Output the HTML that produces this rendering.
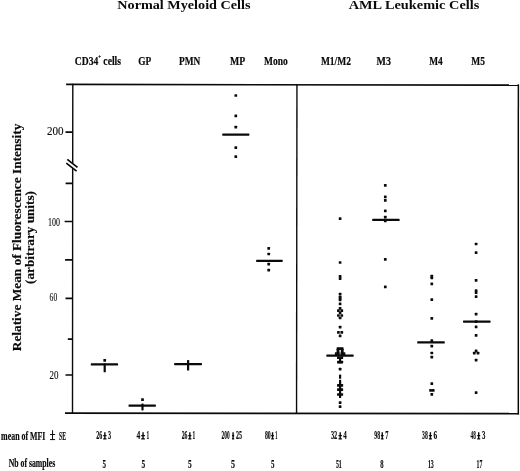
<!DOCTYPE html>
<html><head><meta charset="utf-8"><style>
html,body{margin:0;padding:0;background:#fff;width:520px;height:471px;overflow:hidden}
svg{display:block;will-change:transform}
</style></head><body>
<svg width="520" height="471" viewBox="0 0 520 471" font-family="Liberation Serif, serif">
<rect width="520" height="471" fill="#fff"/>

<g stroke="#0a0a0a" stroke-width="1.7" fill="none" stroke-linecap="butt">
<path d="M66.1 84.46 L518.9 85.1"/>
<path d="M65 413.1 L518.9 413.65"/>
<path d="M518.35 84.3 L518.3 414.4" stroke-width="1.5"/>
<path d="M296.95 84.0 L296.55 414.1" stroke-width="1.4"/>
<path d="M72.8 83.7 L72.7 163.6 M72.68 168.2 L72.5 413.9" stroke-width="1.4"/>
<path d="M65.5 132.1 H72.8 M65.6 183.4 H72.8 M64.6 221.5 H72.7 M65.1 259.8 H72.7 M65.5 298.3 H72.7 M67.8 339.2 H72.7 M65.5 375 H72.7"/>
<path d="M67.3 159.3 L77.5 167.4 M66.3 163.2 L76.6 171.2"/>
</g>

<g fill="#0a0a0a">
<rect x="103.35" y="359.05" width="2.7" height="2.7" rx="0.5"/>
<rect x="90.80" y="363.30" width="27.30" height="2.2" rx="0.6"/>
<rect x="103.60" y="363.30" width="2.2" height="9.00" rx="0.6"/>
<rect x="141.15" y="398.25" width="2.7" height="2.7" rx="0.5"/>
<rect x="128.50" y="404.50" width="27.40" height="2.2" rx="0.6"/>
<rect x="141.40" y="403.50" width="2.2" height="6.90" rx="0.6"/>
<rect x="174.10" y="363.00" width="27.90" height="2.2" rx="0.6"/>
<rect x="187.00" y="359.90" width="2.2" height="10.60" rx="0.6"/>
<rect x="234.45" y="94.15" width="2.7" height="2.7" rx="0.5"/>
<rect x="234.45" y="114.55" width="2.7" height="2.7" rx="0.5"/>
<rect x="234.45" y="125.75" width="2.7" height="2.7" rx="0.5"/>
<rect x="234.45" y="146.25" width="2.7" height="2.7" rx="0.5"/>
<rect x="234.45" y="155.35" width="2.7" height="2.7" rx="0.5"/>
<rect x="222.20" y="133.50" width="27.20" height="2.2" rx="0.6"/>
<rect x="267.35" y="246.95" width="2.7" height="2.7" rx="0.5"/>
<rect x="267.35" y="252.65" width="2.7" height="2.7" rx="0.5"/>
<rect x="267.35" y="262.85" width="2.7" height="2.7" rx="0.5"/>
<rect x="267.35" y="268.75" width="2.7" height="2.7" rx="0.5"/>
<rect x="256.10" y="259.70" width="26.60" height="2.2" rx="0.6"/>
<rect x="338.75" y="217.35" width="2.7" height="2.7" rx="0.5"/>
<rect x="338.75" y="261.15" width="2.7" height="2.7" rx="0.5"/>
<rect x="338.75" y="274.95" width="2.7" height="2.7" rx="0.5"/>
<rect x="338.75" y="277.35" width="2.7" height="2.7" rx="0.5"/>
<rect x="338.75" y="292.85" width="2.7" height="2.7" rx="0.5"/>
<rect x="338.75" y="295.85" width="2.7" height="2.7" rx="0.5"/>
<rect x="338.75" y="297.15" width="2.7" height="2.7" rx="0.5"/>
<rect x="338.75" y="298.45" width="2.7" height="2.7" rx="0.5"/>
<rect x="338.75" y="302.55" width="2.7" height="2.7" rx="0.5"/>
<rect x="338.75" y="306.95" width="2.7" height="2.7" rx="0.5"/>
<rect x="338.75" y="311.45" width="2.7" height="2.7" rx="0.5"/>
<rect x="338.75" y="316.65" width="2.7" height="2.7" rx="0.5"/>
<rect x="338.75" y="325.75" width="2.7" height="2.7" rx="0.5"/>
<rect x="338.75" y="334.45" width="2.7" height="2.7" rx="0.5"/>
<rect x="338.75" y="367.85" width="2.7" height="2.7" rx="0.5"/>
<rect x="338.75" y="401.35" width="2.7" height="2.7" rx="0.5"/>
<rect x="338.75" y="405.25" width="2.7" height="2.7" rx="0.5"/>
<rect x="337.05" y="309.25" width="2.7" height="2.7" rx="0.5"/>
<rect x="337.05" y="314.15" width="2.7" height="2.7" rx="0.5"/>
<rect x="337.05" y="331.05" width="2.7" height="2.7" rx="0.5"/>
<rect x="340.45" y="309.25" width="2.7" height="2.7" rx="0.5"/>
<rect x="340.45" y="314.15" width="2.7" height="2.7" rx="0.5"/>
<rect x="340.45" y="331.05" width="2.7" height="2.7" rx="0.5"/>
<rect x="336.65" y="347.25" width="2.7" height="2.7" rx="0.5"/>
<rect x="336.65" y="348.85" width="2.7" height="2.7" rx="0.5"/>
<rect x="336.65" y="350.45" width="2.7" height="2.7" rx="0.5"/>
<rect x="340.85" y="347.25" width="2.7" height="2.7" rx="0.5"/>
<rect x="340.85" y="348.85" width="2.7" height="2.7" rx="0.5"/>
<rect x="340.85" y="350.45" width="2.7" height="2.7" rx="0.5"/>
<rect x="338.75" y="347.25" width="2.7" height="2.7" rx="0.5"/>
<rect x="334.85" y="352.25" width="2.7" height="2.7" rx="0.5"/>
<rect x="337.05" y="352.25" width="2.7" height="2.7" rx="0.5"/>
<rect x="340.45" y="352.25" width="2.7" height="2.7" rx="0.5"/>
<rect x="342.65" y="352.25" width="2.7" height="2.7" rx="0.5"/>
<rect x="326.30" y="354.50" width="27.40" height="2.2" rx="0.6"/>
<rect x="337.05" y="356.25" width="2.7" height="2.7" rx="0.5"/>
<rect x="340.45" y="356.25" width="2.7" height="2.7" rx="0.5"/>
<rect x="339.00" y="357.00" width="2.2" height="4.50" rx="0.6"/>
<rect x="337.05" y="360.85" width="2.7" height="2.7" rx="0.5"/>
<rect x="340.45" y="360.85" width="2.7" height="2.7" rx="0.5"/>
<rect x="338.75" y="360.85" width="2.7" height="2.7" rx="0.5"/>
<rect x="339.00" y="374.60" width="2.2" height="4.20" rx="0.6"/>
<rect x="339.00" y="379.80" width="2.2" height="18.20" rx="0.6"/>
<rect x="337.05" y="383.95" width="2.7" height="2.7" rx="0.5"/>
<rect x="337.05" y="388.35" width="2.7" height="2.7" rx="0.5"/>
<rect x="337.05" y="393.15" width="2.7" height="2.7" rx="0.5"/>
<rect x="340.45" y="383.95" width="2.7" height="2.7" rx="0.5"/>
<rect x="340.45" y="388.35" width="2.7" height="2.7" rx="0.5"/>
<rect x="340.45" y="393.15" width="2.7" height="2.7" rx="0.5"/>
<rect x="383.95" y="184.05" width="2.7" height="2.7" rx="0.5"/>
<rect x="383.95" y="195.55" width="2.7" height="2.7" rx="0.5"/>
<rect x="383.95" y="198.95" width="2.7" height="2.7" rx="0.5"/>
<rect x="383.95" y="209.55" width="2.7" height="2.7" rx="0.5"/>
<rect x="383.95" y="215.75" width="2.7" height="2.7" rx="0.5"/>
<rect x="383.95" y="219.45" width="2.7" height="2.7" rx="0.5"/>
<rect x="383.95" y="258.05" width="2.7" height="2.7" rx="0.5"/>
<rect x="383.95" y="285.55" width="2.7" height="2.7" rx="0.5"/>
<rect x="372.20" y="218.80" width="27.40" height="2.2" rx="0.6"/>
<rect x="430.45" y="274.65" width="2.7" height="2.7" rx="0.5"/>
<rect x="430.45" y="276.65" width="2.7" height="2.7" rx="0.5"/>
<rect x="430.45" y="282.55" width="2.7" height="2.7" rx="0.5"/>
<rect x="430.45" y="298.35" width="2.7" height="2.7" rx="0.5"/>
<rect x="430.45" y="316.95" width="2.7" height="2.7" rx="0.5"/>
<rect x="430.45" y="339.25" width="2.7" height="2.7" rx="0.5"/>
<rect x="430.45" y="344.75" width="2.7" height="2.7" rx="0.5"/>
<rect x="430.45" y="351.65" width="2.7" height="2.7" rx="0.5"/>
<rect x="430.45" y="355.85" width="2.7" height="2.7" rx="0.5"/>
<rect x="430.45" y="382.35" width="2.7" height="2.7" rx="0.5"/>
<rect x="430.45" y="393.05" width="2.7" height="2.7" rx="0.5"/>
<rect x="429.25" y="388.95" width="2.7" height="2.7" rx="0.5"/>
<rect x="431.85" y="388.95" width="2.7" height="2.7" rx="0.5"/>
<rect x="417.20" y="341.30" width="27.60" height="2.2" rx="0.6"/>
<rect x="474.75" y="242.65" width="2.7" height="2.7" rx="0.5"/>
<rect x="474.75" y="251.35" width="2.7" height="2.7" rx="0.5"/>
<rect x="474.75" y="278.95" width="2.7" height="2.7" rx="0.5"/>
<rect x="474.75" y="289.25" width="2.7" height="2.7" rx="0.5"/>
<rect x="474.75" y="291.35" width="2.7" height="2.7" rx="0.5"/>
<rect x="474.75" y="295.35" width="2.7" height="2.7" rx="0.5"/>
<rect x="474.75" y="312.85" width="2.7" height="2.7" rx="0.5"/>
<rect x="474.75" y="320.25" width="2.7" height="2.7" rx="0.5"/>
<rect x="474.75" y="325.55" width="2.7" height="2.7" rx="0.5"/>
<rect x="474.75" y="333.95" width="2.7" height="2.7" rx="0.5"/>
<rect x="474.75" y="349.45" width="2.7" height="2.7" rx="0.5"/>
<rect x="474.75" y="358.85" width="2.7" height="2.7" rx="0.5"/>
<rect x="474.75" y="391.35" width="2.7" height="2.7" rx="0.5"/>
<rect x="472.95" y="351.85" width="2.7" height="2.7" rx="0.5"/>
<rect x="476.65" y="351.85" width="2.7" height="2.7" rx="0.5"/>
<rect x="463.00" y="320.50" width="27.60" height="2.2" rx="0.6"/>
</g>
<g fill="#0a0a0a">
<text x="117.3" y="9.2" font-size="13" font-weight="bold" textLength="133.20" lengthAdjust="spacingAndGlyphs" >Normal Myeloid Cells</text>
<text x="348.7" y="9.3" font-size="13" font-weight="bold" textLength="130.60" lengthAdjust="spacingAndGlyphs" >AML Leukemic Cells</text>
<text x="74.75" y="65" font-size="12" font-weight="bold" textLength="46.25" lengthAdjust="spacingAndGlyphs" stroke="#0a0a0a" stroke-width="0.2">CD34<tspan font-size="6" dy="-6.5">+</tspan><tspan dy="6.5"> cells</tspan></text>
<text x="138.2" y="65" font-size="12" font-weight="bold" textLength="13.00" lengthAdjust="spacingAndGlyphs" stroke="#0a0a0a" stroke-width="0.2">GP</text>
<text x="179" y="65" font-size="12" font-weight="bold" textLength="21.30" lengthAdjust="spacingAndGlyphs" stroke="#0a0a0a" stroke-width="0.2">PMN</text>
<text x="230" y="65" font-size="12" font-weight="bold" textLength="15.20" lengthAdjust="spacingAndGlyphs" stroke="#0a0a0a" stroke-width="0.2">MP</text>
<text x="264" y="65" font-size="12" font-weight="bold" textLength="23.70" lengthAdjust="spacingAndGlyphs" stroke="#0a0a0a" stroke-width="0.2">Mono</text>
<text x="320.9" y="65" font-size="12" font-weight="bold" textLength="30.10" lengthAdjust="spacingAndGlyphs" stroke="#0a0a0a" stroke-width="0.2">M1/M2</text>
<text x="376.5" y="65" font-size="12" font-weight="bold" textLength="14.40" lengthAdjust="spacingAndGlyphs" stroke="#0a0a0a" stroke-width="0.2">M3</text>
<text x="429.2" y="65" font-size="12" font-weight="bold" textLength="13.50" lengthAdjust="spacingAndGlyphs" stroke="#0a0a0a" stroke-width="0.2">M4</text>
<text x="471.3" y="65" font-size="12" font-weight="bold" textLength="13.60" lengthAdjust="spacingAndGlyphs" stroke="#0a0a0a" stroke-width="0.2">M5</text>
<text x="47" y="134.8" font-size="11.8"  textLength="16.60" lengthAdjust="spacingAndGlyphs" stroke="#0a0a0a" stroke-width="0.12">200</text>
<text x="48" y="225.8" font-size="11.8"  textLength="12.00" lengthAdjust="spacingAndGlyphs" stroke="#0a0a0a" stroke-width="0.12">100</text>
<text x="49.6" y="300.9" font-size="11.8"  textLength="7.60" lengthAdjust="spacingAndGlyphs" stroke="#0a0a0a" stroke-width="0.12">60</text>
<text x="49.5" y="378.8" font-size="11.8"  textLength="9.00" lengthAdjust="spacingAndGlyphs" stroke="#0a0a0a" stroke-width="0.12">20</text>
<text x="1.1" y="439.8" font-size="12.5" font-weight="bold" textLength="44.30" lengthAdjust="spacingAndGlyphs" stroke="#0a0a0a" stroke-width="0.2">mean of MFI</text>
<text x="59.0" y="439.9" font-size="12.5" font-weight="bold" textLength="7.00" lengthAdjust="spacingAndGlyphs" stroke="#0a0a0a" stroke-width="0.2">SE</text>
<text x="8.7" y="467.2" font-size="12.5" font-weight="bold" textLength="46.50" lengthAdjust="spacingAndGlyphs" stroke="#0a0a0a" stroke-width="0.2">Nb of samples</text>
<text x="96.2" y="439.0" font-size="12.5" font-weight="bold" textLength="6.00" lengthAdjust="spacingAndGlyphs" stroke="#0a0a0a" stroke-width="0.15">26</text>
<text x="108.10000000000001" y="439.0" font-size="12.5" font-weight="bold" textLength="3.10" lengthAdjust="spacingAndGlyphs" stroke="#0a0a0a" stroke-width="0.15">3</text>
<text x="136.6" y="439.0" font-size="12.5" font-weight="bold" textLength="3.80" lengthAdjust="spacingAndGlyphs" stroke="#0a0a0a" stroke-width="0.15">4</text>
<text x="146.39999999999998" y="439.0" font-size="12.5" font-weight="bold" textLength="2.70" lengthAdjust="spacingAndGlyphs" stroke="#0a0a0a" stroke-width="0.15">1</text>
<text x="181.7" y="439.0" font-size="12.5" font-weight="bold" textLength="5.80" lengthAdjust="spacingAndGlyphs" stroke="#0a0a0a" stroke-width="0.15">26</text>
<text x="192.6" y="439.0" font-size="12.5" font-weight="bold" textLength="2.70" lengthAdjust="spacingAndGlyphs" stroke="#0a0a0a" stroke-width="0.15">1</text>
<text x="221.6" y="439.0" font-size="12.5" font-weight="bold" textLength="8.00" lengthAdjust="spacingAndGlyphs" stroke="#0a0a0a" stroke-width="0.15">200</text>
<text x="236.0" y="439.0" font-size="12.5" font-weight="bold" textLength="6.00" lengthAdjust="spacingAndGlyphs" stroke="#0a0a0a" stroke-width="0.15">25</text>
<text x="264.9" y="439.0" font-size="12.5" font-weight="bold" textLength="5.80" lengthAdjust="spacingAndGlyphs" stroke="#0a0a0a" stroke-width="0.15">80</text>
<text x="275.3" y="439.0" font-size="12.5" font-weight="bold" textLength="2.20" lengthAdjust="spacingAndGlyphs" stroke="#0a0a0a" stroke-width="0.15">1</text>
<text x="330.9" y="439.0" font-size="12.5" font-weight="bold" textLength="6.30" lengthAdjust="spacingAndGlyphs" stroke="#0a0a0a" stroke-width="0.15">32</text>
<text x="343.3" y="439.0" font-size="12.5" font-weight="bold" textLength="3.50" lengthAdjust="spacingAndGlyphs" stroke="#0a0a0a" stroke-width="0.15">4</text>
<text x="374.3" y="439.0" font-size="12.5" font-weight="bold" textLength="5.80" lengthAdjust="spacingAndGlyphs" stroke="#0a0a0a" stroke-width="0.15">98</text>
<text x="385.3" y="439.0" font-size="12.5" font-weight="bold" textLength="3.20" lengthAdjust="spacingAndGlyphs" stroke="#0a0a0a" stroke-width="0.15">7</text>
<text x="422.0" y="439.0" font-size="12.5" font-weight="bold" textLength="5.80" lengthAdjust="spacingAndGlyphs" stroke="#0a0a0a" stroke-width="0.15">38</text>
<text x="433.59999999999997" y="439.0" font-size="12.5" font-weight="bold" textLength="3.70" lengthAdjust="spacingAndGlyphs" stroke="#0a0a0a" stroke-width="0.15">6</text>
<text x="470.59999999999997" y="439.0" font-size="12.5" font-weight="bold" textLength="5.20" lengthAdjust="spacingAndGlyphs" stroke="#0a0a0a" stroke-width="0.15">48</text>
<text x="481.9" y="439.0" font-size="12.5" font-weight="bold" textLength="3.40" lengthAdjust="spacingAndGlyphs" stroke="#0a0a0a" stroke-width="0.15">3</text>
<text x="102.4" y="468.4" font-size="12.6" font-weight="bold" textLength="3.50" lengthAdjust="spacingAndGlyphs" stroke="#0a0a0a" stroke-width="0.15">5</text>
<text x="141.5" y="468.4" font-size="12.6" font-weight="bold" textLength="3.70" lengthAdjust="spacingAndGlyphs" stroke="#0a0a0a" stroke-width="0.15">5</text>
<text x="187.89999999999998" y="468.4" font-size="12.6" font-weight="bold" textLength="3.70" lengthAdjust="spacingAndGlyphs" stroke="#0a0a0a" stroke-width="0.15">5</text>
<text x="230.89999999999998" y="468.4" font-size="12.6" font-weight="bold" textLength="4.00" lengthAdjust="spacingAndGlyphs" stroke="#0a0a0a" stroke-width="0.15">5</text>
<text x="270.9" y="468.4" font-size="12.6" font-weight="bold" textLength="3.50" lengthAdjust="spacingAndGlyphs" stroke="#0a0a0a" stroke-width="0.15">5</text>
<text x="335.9" y="468.4" font-size="12.6" font-weight="bold" textLength="5.90" lengthAdjust="spacingAndGlyphs" stroke="#0a0a0a" stroke-width="0.15">51</text>
<text x="380.3" y="468.4" font-size="12.6" font-weight="bold" textLength="3.30" lengthAdjust="spacingAndGlyphs" stroke="#0a0a0a" stroke-width="0.15">8</text>
<text x="427.9" y="468.4" font-size="12.6" font-weight="bold" textLength="5.90" lengthAdjust="spacingAndGlyphs" stroke="#0a0a0a" stroke-width="0.15">13</text>
<text x="476.59999999999997" y="468.4" font-size="12.6" font-weight="bold" textLength="5.80" lengthAdjust="spacingAndGlyphs" stroke="#0a0a0a" stroke-width="0.15">17</text>
<text transform="translate(20.8,351.2) rotate(-90)" font-size="11.6" font-weight="bold" stroke="#0a0a0a" stroke-width="0.15" textLength="227.5" lengthAdjust="spacingAndGlyphs">Relative Mean of Fluorescence Intensity</text>
<text transform="translate(33.5,283.9) rotate(-90)" font-size="12" font-weight="bold" stroke="#0a0a0a" stroke-width="0.15" textLength="92.9" lengthAdjust="spacingAndGlyphs">(arbitrary units)</text>
</g>
<g stroke="#0a0a0a" fill="none">
<path d="M52.55 430.2 V439.6 M50.0 434.5 H55.1 M50.0 439.6 H55.1" stroke-width="1.0"/>
<path d="M104.85 432.2 V438.9" stroke-width="1.4"/><path d="M103.2 435.6 H106.5 M103.2 438.9 H106.5" stroke-width="1.2"/>
<path d="M143.05 432.2 V438.9" stroke-width="1.4"/><path d="M141.2 435.6 H144.9 M141.2 438.9 H144.9" stroke-width="1.2"/>
<path d="M189.85 432.2 V438.9" stroke-width="1.4"/><path d="M188.29999999999998 435.6 H191.4 M188.29999999999998 438.9 H191.4" stroke-width="1.2"/>
<path d="M233.10 432.2 V438.9" stroke-width="1.4"/><path d="M232.0 435.6 H234.20000000000002 M232.0 438.9 H234.20000000000002" stroke-width="1.2"/>
<path d="M272.55 432.2 V438.9" stroke-width="1.4"/><path d="M271.2 435.6 H273.90000000000003 M271.2 438.9 H273.90000000000003" stroke-width="1.2"/>
<path d="M340.20 432.2 V438.9" stroke-width="1.4"/><path d="M338.5 435.6 H341.90000000000003 M338.5 438.9 H341.90000000000003" stroke-width="1.2"/>
<path d="M382.25 432.2 V438.9" stroke-width="1.4"/><path d="M380.9 435.6 H383.6 M380.9 438.9 H383.6" stroke-width="1.2"/>
<path d="M430.40 432.2 V438.9" stroke-width="1.4"/><path d="M428.9 435.6 H431.90000000000003 M428.9 438.9 H431.90000000000003" stroke-width="1.2"/>
<path d="M478.70 432.2 V438.9" stroke-width="1.4"/><path d="M477.2 435.6 H480.2 M477.2 438.9 H480.2" stroke-width="1.2"/>
</g>
</svg>
</body></html>
